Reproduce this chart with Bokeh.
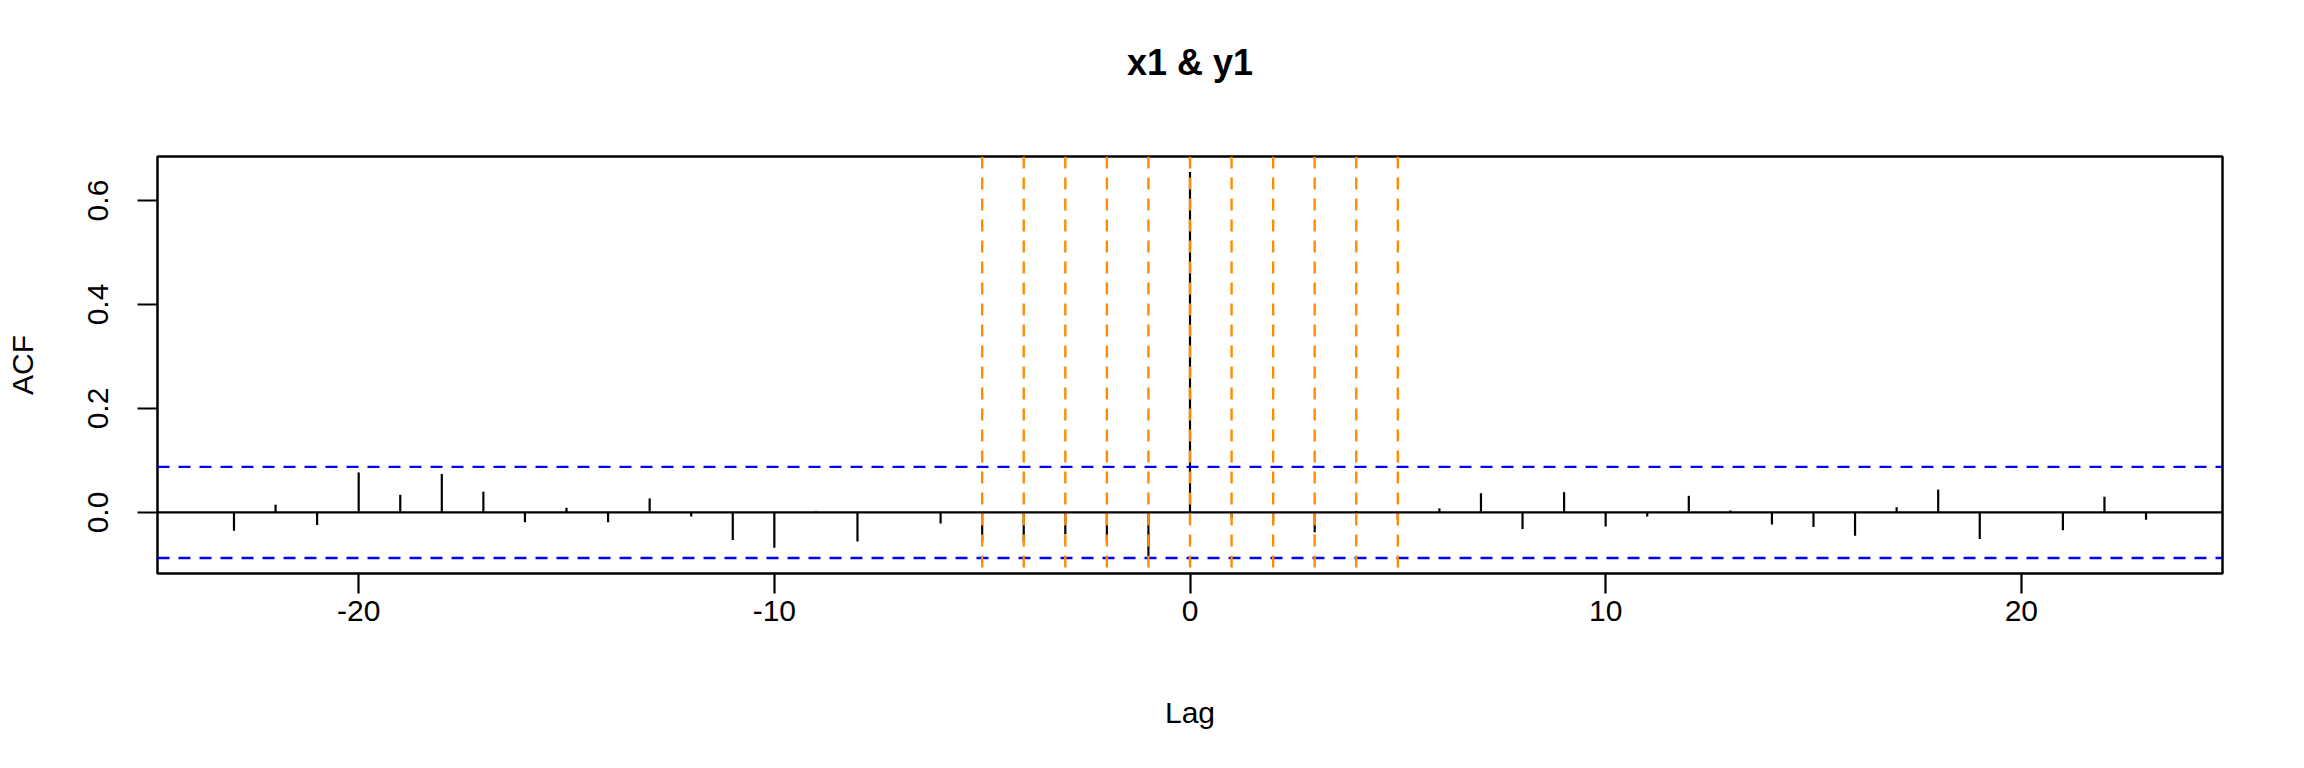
from bokeh.plotting import figure
from bokeh.models import Range1d, Span, FixedTicker, PrintfTickFormatter, LinearAxis
from bokeh.embed import file_html
from bokeh.resources import INLINE

# Data (cross-correlation of x1 and y1)
lags = list(range(-23, 24))
acf = [-0.035, 0.015, -0.024, 0.077, 0.034, 0.074, 0.040, -0.019, 0.009, -0.019,
       0.027, -0.008, -0.053, -0.068, 0.002, -0.056, -0.001, -0.021, -0.055, -0.055,
       -0.042, -0.055, -0.087, 0.655, -0.011, -0.017, -0.038, 0.003, -0.014, 0.008,
       0.037, -0.032, 0.039, -0.027, -0.008, 0.032, 0.004, -0.023, -0.028, -0.045,
       0.010, 0.044, -0.051, 0.001, -0.034, 0.030, -0.014]
clim = 0.0877
marked_lags = [-5, -4, -3, -2, -1, 0, 1, 2, 3, 4, 5]
x_ticks = [-20, -10, 0, 10, 20]
y_ticks = [0.0, 0.2, 0.4, 0.6]
title_text = "x1 & y1"
x_label = "Lag"
y_label = "ACF"

FONT = "Liberation Sans"

p = figure(width=2288, height=752, output_backend="svg", toolbar_location=None,
           x_range=Range1d(-24.84, 24.84), y_range=Range1d(-0.1174, 0.6847),
           min_border_left=157, min_border_right=66, min_border_top=156,
           min_border_bottom=179)
p.background_fill_color = "white"
p.border_fill_color = "white"
p.outline_line_color = "black"
p.outline_line_width = 2.5
p.grid.visible = False

xax = p.below[0]
yax = p.left[0]

# bars
p.segment(x0=lags, y0=[0] * len(lags), x1=lags, y1=acf, line_color="black", line_width=2.2)

# zero line
p.add_layout(Span(location=0, dimension="width", line_color="black", line_width=2.2))
# confidence limits
for c in (clim, -clim):
    p.add_layout(Span(location=c, dimension="width", line_color="blue",
                      line_width=2.4, line_dash="12 9"))
# marked lags
for lg in marked_lags:
    p.add_layout(Span(location=lg, dimension="height", line_color="darkorange",
                      line_width=2.4, line_dash="12 9"))

for ax in (xax, yax):
    ax.axis_line_color = None
    ax.major_tick_line_color = "black"
    ax.major_tick_line_width = 2.2
    ax.major_tick_out = 20
    ax.major_tick_in = 0
    ax.minor_tick_line_color = None
    ax.major_label_text_font = FONT
    ax.major_label_text_font_size = "30px"
    ax.major_label_text_color = "black"
    ax.axis_label_text_font = FONT
    ax.axis_label_text_font_size = "30px"
    ax.axis_label_text_font_style = "normal"
    ax.axis_label_text_color = "black"

xax.ticker = FixedTicker(ticks=x_ticks)
xax.formatter = PrintfTickFormatter(format="%d")
xax.major_label_standoff = 7
xax.axis_label = x_label
xax.axis_label_standoff = 72

yax.ticker = FixedTicker(ticks=y_ticks)
yax.formatter = PrintfTickFormatter(format="%.1f")
yax.major_label_orientation = "vertical"
yax.major_label_standoff = 29
yax.axis_label = y_label
yax.axis_label_standoff = 47

# title drawn as the label of a tick-less axis above the frame
title_axis = LinearAxis(ticker=FixedTicker(ticks=[]), axis_label=title_text)
title_axis.axis_line_color = None
title_axis.major_tick_line_color = None
title_axis.minor_tick_line_color = None
title_axis.major_tick_out = 0
title_axis.major_tick_in = 0
title_axis.major_label_text_font_size = "0px"
title_axis.major_label_standoff = 0
title_axis.axis_label_text_font = FONT
title_axis.axis_label_text_font_size = "36px"
title_axis.axis_label_text_font_style = "bold"
title_axis.axis_label_text_color = "black"
title_axis.axis_label_standoff = 74
p.add_layout(title_axis, "above")

open("out.html", "w").write(file_html(p, INLINE))
